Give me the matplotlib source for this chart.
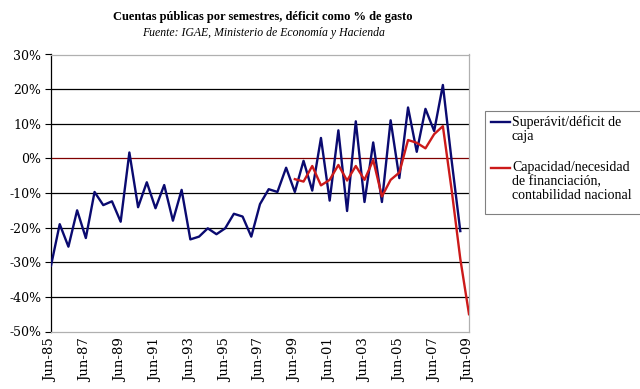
import numpy as np
import matplotlib.pyplot as plt
from matplotlib.lines import Line2D
from matplotlib.patches import Rectangle

# semestres, Jun-85 .. Jun-09
periods = ['Jun-85', 'Dec-85', 'Jun-86', 'Dec-86', 'Jun-87', 'Dec-87', 'Jun-88', 'Dec-88',
           'Jun-89', 'Dec-89', 'Jun-90', 'Dec-90', 'Jun-91', 'Dec-91', 'Jun-92', 'Dec-92',
           'Jun-93', 'Dec-93', 'Jun-94', 'Dec-94', 'Jun-95', 'Dec-95', 'Jun-96', 'Dec-96',
           'Jun-97', 'Dec-97', 'Jun-98', 'Dec-98', 'Jun-99', 'Dec-99', 'Jun-00', 'Dec-00',
           'Jun-01', 'Dec-01', 'Jun-02', 'Dec-02', 'Jun-03', 'Dec-03', 'Jun-04', 'Dec-04',
           'Jun-05', 'Dec-05', 'Jun-06', 'Dec-06', 'Jun-07', 'Dec-07', 'Jun-08', 'Dec-08',
           'Jun-09']

# Superavit/deficit de caja (% del gasto), Jun-85 .. Dec-08
caja = [-31, -19, -25.5, -15, -23, -9.7, -13.5, -12.4,
        -18.3, 1.7, -14.1, -6.9, -14.4, -7.7, -18, -9.1,
        -23.4, -22.6, -20.2, -21.9, -20.2, -16, -16.8, -22.6,
        -13.2, -8.9, -9.7, -2.7, -9.7, -0.7, -9.3, 5.9,
        -12.2, 8.1, -15.2, 10.7, -12.6, 4.6, -12.6, 11,
        -5.7, 14.7, 1.9, 14.3, 7.9, 21.2, -0.5, -21]

# Capacidad/necesidad de financiacion, Jun-99 .. Jun-09
cn_start = 'Jun-99'
contab_nac = [-6, -6.7, -2.2, -7.8, -6.2, -1.9, -6.4, -2.2, -6.2, -0.5,
              -11, -6.2, -4.1, 5.3, 4.5, 2.9, 7, 9.3, -9, -29, -45]

yticks = [30, 20, 10, 0, -10, -20, -30, -40, -50]
ytick_labels = ['30%', '20%', '10%', '0%', '-10%', '-20%', '-30%', '-40%', '-50%']

series_labels = ['Superávit/déficit de\ncaja',
                 'Capacidad/necesidad\nde financiación,\ncontabilidad nacional']
colors = ['#0a0a70', '#cc1a1a']

plt.rcParams['font.family'] = ['DejaVu Serif']

W, H = 640, 389
fig = plt.figure(figsize=(6.4, 3.89), dpi=100)
ax = fig.add_axes([51/W, 1 - 331.5/H, (469 - 51)/W, (331.5 - 54.5)/H])

x = np.arange(len(periods))
i0 = periods.index(cn_start)

# gridlines (black), 0% axis in dark red
for v in yticks:
    if v == 0:
        ax.axhline(v, color='#800000', lw=0.9, zorder=1)
    elif v not in (30, -50):
        ax.axhline(v, color='black', lw=0.9, zorder=1)

ax.plot(x[:len(caja)], caja, color=colors[0], lw=1.7, zorder=3)
ax.plot(x[i0:i0 + len(contab_nac)], contab_nac, color=colors[1], lw=1.7, zorder=4)

ax.set_xlim(0, len(periods) - 1)
ax.set_ylim(-50, 30)
ax.set_yticks(yticks)
ax.set_yticklabels(ytick_labels, fontsize=9)
ax.set_xticks(x[::4])
ax.set_xticklabels(periods[::4], rotation=90, fontsize=9.5)
ax.tick_params(axis='y', direction='out', length=4, width=0.8, pad=3)
ax.tick_params(axis='x', length=0, pad=5)

for s in ['top', 'right', 'bottom']:
    ax.spines[s].set_color('#b0b0b0')
    ax.spines[s].set_linewidth(0.9)
ax.spines['left'].set_color('black')
ax.spines['left'].set_linewidth(0.9)

fig.text(263/W, 1 - 17/H, 'Cuentas públicas por semestres, déficit como % de gasto',
         ha='center', va='center', fontsize=9, fontweight='bold', family='Liberation Serif')
fig.text(263/W, 1 - 33/H, 'Fuente: IGAE, Ministerio de Economía y Hacienda',
         ha='center', va='center', fontsize=8.5, style='italic', family='Liberation Serif')

# legend box, drawn by hand so the key line sits on the first text line
fig.patches.append(Rectangle((485/W, 1 - 214/H), 170/W, 103/H, transform=fig.transFigure,
                             facecolor='white', edgecolor='#808080', lw=0.8))
for lbl, c, ytop in zip(series_labels, colors, [115, 161]):
    fig.lines.append(Line2D([491/W, 510/W], [1 - (ytop + 7)/H] * 2, transform=fig.transFigure,
                            color=c, lw=1.7))
    fig.text(512/W, 1 - ytop/H, lbl, ha='left', va='top', fontsize=10,
             family='Liberation Serif', linespacing=1.1)

fig.savefig('out.png', dpi=100)
